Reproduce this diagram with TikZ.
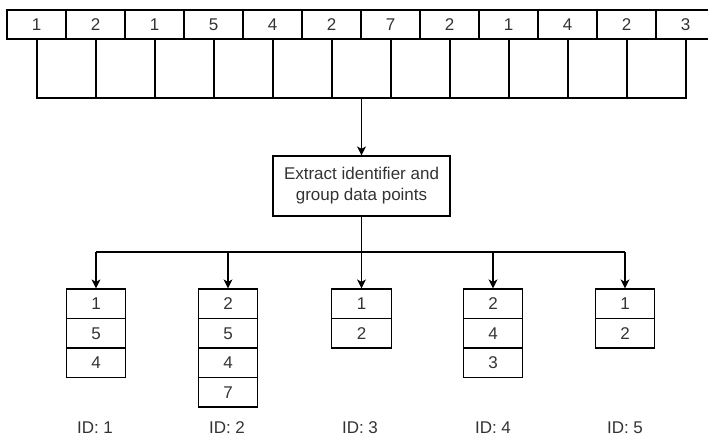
\documentclass[tikz,border=0pt]{standalone}
\usepackage{fontspec}
\setmainfont{Liberation Sans}
\usetikzlibrary{arrows.meta}
\definecolor{txt}{HTML}{333333}
\begin{document}
\begin{tikzpicture}[x=1pt,y=-1pt,
  every node/.style={text=txt, font=\fontsize{17}{21}\selectfont},
  topcell/.style={draw=black, line width=1.2pt, minimum width=59pt, minimum height=29pt, inner sep=0pt},
  slot/.style={draw=black, line width=1.2pt, minimum width=59pt, minimum height=59pt, inner sep=0pt},
  gcell/.style={draw=black, line width=1.2pt, minimum width=59.5pt, minimum height=29.5pt, inner sep=0pt},
  proc/.style={draw=black, line width=1.2pt, minimum width=177pt, minimum height=60pt, align=center, inner sep=2pt},
  conn/.style={draw=black, line width=1.2pt},
  arr/.style={conn, -{Stealth[length=9pt,width=9pt,inset=2.5pt]}},
  idlabel/.style={}]
\useasboundingbox (0,0) rectangle (708,437);
\clip (0,0) rectangle (708,437);
% top strip
\foreach \v [count=\k from 0] in {1,2,1,5,4,2,7,2,1,4,2,3}{
  \node[topcell] (t\k) at ({36.5+59*\k},24.5) {\v};
}
% slots under the strip
\foreach \k in {0,...,10}{
  \node[slot] (b\k) at ({66.5+59*\k},68.5) {};
}
\coordinate (mid) at (361.5,98);
\node[proc] (p) at (361.5,186) {Extract identifier and\\group data points};
\draw[arr] (mid) -- (p.north);
% groups
\coordinate (br) at (361.5,252);
\draw[conn] (p.south) -- (br);
% group 1
\node[gcell] (g1a) at (96,303.75) {1};
\node[gcell] (g1b) at (96,333.25) {5};
\node[gcell] (g1c) at (96,362.75) {4};
% group 2
\node[gcell] (g2a) at (228,303.75) {2};
\node[gcell] (g2b) at (228,333.25) {5};
\node[gcell] (g2c) at (228,362.75) {4};
\node[gcell] (g2d) at (228,392.25) {7};
% group 3
\node[gcell] (g3a) at (361.5,303.75) {1};
\node[gcell] (g3b) at (361.5,333.25) {2};
% group 4
\node[gcell] (g4a) at (493,303.75) {2};
\node[gcell] (g4b) at (493,333.25) {4};
\node[gcell] (g4c) at (493,362.75) {3};
% group 5
\node[gcell] (g5a) at (625,303.75) {1};
\node[gcell] (g5b) at (625,333.25) {2};
\draw[conn] (g1a.north |- br) -- (g5a.north |- br);
\foreach \g in {g1a,g2a,g3a,g4a,g5a}{
  \draw[arr] (\g.north |- br) -- (\g.north);
}
% labels
\node[idlabel] (id1) at (95,428) {ID: 1};
\node[idlabel] (id2) at (227,428) {ID: 2};
\node[idlabel] (id3) at (360,428) {ID: 3};
\node[idlabel] (id4) at (493,428) {ID: 4};
\node[idlabel] (id5) at (625,428) {ID: 5};
\end{tikzpicture}
\end{document}
